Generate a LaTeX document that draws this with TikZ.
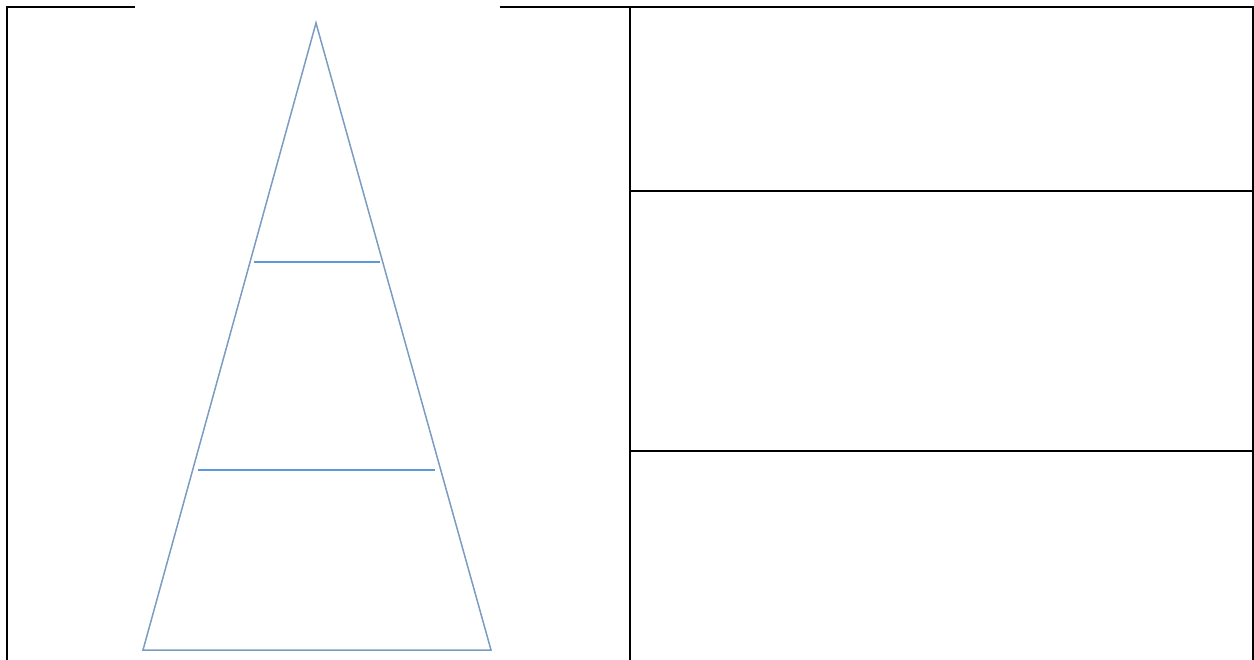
\documentclass[tikz,border=0pt]{standalone}
\usepackage{xcolor}
\usepackage{tikz}
\definecolor{steel}{HTML}{7A9CC2}
\definecolor{tierblue}{HTML}{5B9BD5}

\begin{document}
\begin{tikzpicture}[x=1pt,y=-1pt,
    grid/.style={draw=black,line width=2pt},
    pyramid/.style={draw=steel,line width=1.5pt,line join=miter},
    tier/.style={draw=tierblue,line width=1.2pt}]
    \useasboundingbox (0,0) rectangle (1254,660);
    % corners of the pyramid and its tiers
    \coordinate (apex) at (316,23);
    \coordinate (baseL) at (143,650);
    \coordinate (baseR) at (491,650);
    \coordinate (upL) at (254,262);
    \coordinate (upR) at (380,262);
    \coordinate (midL) at (198,470);
    \coordinate (midR) at (435,470);
    % table frame
    \draw[grid] (7,661) -- (7,7) -- (135,7);
    \draw[grid] (500,7) -- (1253,7) -- (1253,661);
    \draw[grid] (630,7) -- (630,661);
    \draw[grid] (630,191) -- (1253,191);
    \draw[grid] (630,451) -- (1253,451);
    % pyramid
    \draw[pyramid] (apex) -- (baseR) -- (baseL) -- cycle;
    \draw[tier] (upL) -- (upR);
    \draw[tier] (midL) -- (midR);
\end{tikzpicture}
\end{document}
